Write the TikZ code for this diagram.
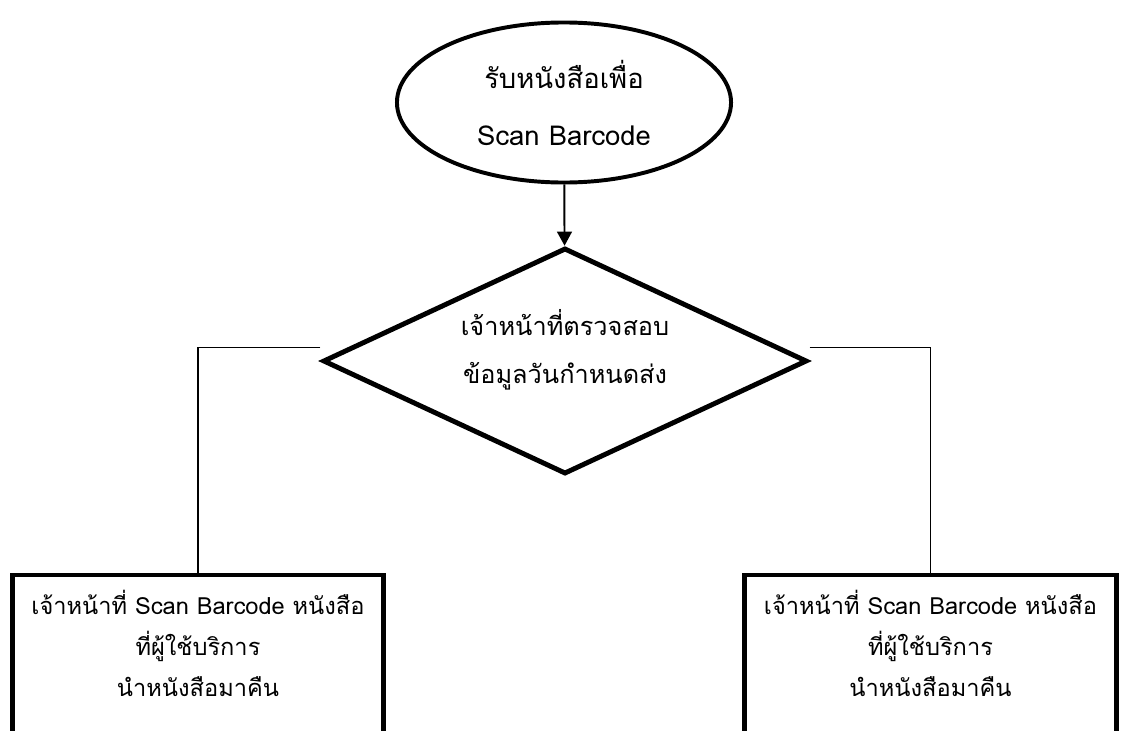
\documentclass[tikz,border=0pt]{standalone}
\usepackage{fontspec}
\setmainfont[Script=Thai]{Loma}
\usetikzlibrary{shapes.geometric,arrows.meta}

\begin{document}
\begin{tikzpicture}[x=0.025cm, y=-0.025cm]
\useasboundingbox (0,0) rectangle (1124,730);
\clip (0,0) rectangle (1124,730);

% Start - receive book
\node[draw, ellipse, line width=2.8pt, minimum width=8.35cm, minimum height=4cm, align=center, font=\fontsize{19.5}{40.5}\selectfont] (scan) at (564,102.5) {รับหนังสือเพื่อ\\Scan Barcode};

% Decision
\node[draw, diamond, aspect=2.1, line width=3.5pt, minimum width=12.1cm, minimum height=5.65cm, inner sep=0pt, font=\fontsize{18}{34}\selectfont] (check) at (565,361) {\raisebox{0.13cm}[0pt][0pt]{\begin{tabular}{@{}c@{}}เจ้าหน้าที่ตรวจสอบ\\ข้อมูลวันกำหนดส่ง\end{tabular}}};

\draw[-{Triangle[length=10pt, width=10.5pt]}, line width=1.4pt] (scan) -- (check);

% Return boxes
\node[draw, rectangle, line width=3.5pt, anchor=north, text width=8.675cm, inner xsep=0.3cm, inner ysep=0.38cm, text depth=4cm, align=center, font=\fontsize{16.8}{29}\selectfont] (lbox) at (198,572.5) {เจ้าหน้าที่ Scan Barcode หนังสือ\\ที่ผู้ใช้บริการ\\นำหนังสือมาคืน};
\node[draw, rectangle, line width=3.5pt, anchor=north, text width=8.7cm, inner xsep=0.3cm, inner ysep=0.38cm, text depth=4cm, align=center, font=\fontsize{16.8}{29}\selectfont] (rbox) at (930.5,572.5) {เจ้าหน้าที่ Scan Barcode หนังสือ\\ที่ผู้ใช้บริการ\\นำหนังสือมาคืน};

\draw[line width=0.8pt] ([yshift=0.33cm]check.west) -| (lbox.north);
\draw[line width=0.8pt] ([yshift=0.33cm]check.east) -| (rbox.north);
\end{tikzpicture}
\end{document}
